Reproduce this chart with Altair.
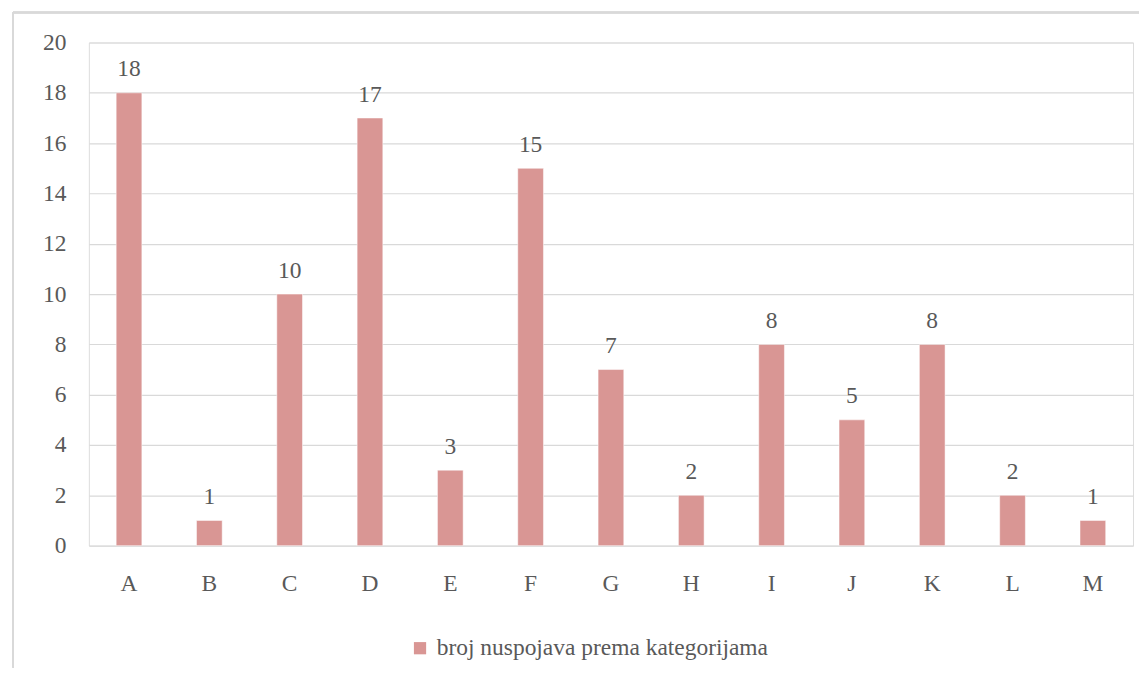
import altair as alt
import pandas as pd

categories = ["A", "B", "C", "D", "E", "F", "G", "H", "I", "J", "K", "L", "M"]
values = [18, 1, 10, 17, 3, 15, 7, 2, 8, 5, 8, 2, 1]
series_name = "broj nuspojava prema kategorijama"

df = pd.DataFrame({"cat": categories, "val": values, "series": [series_name] * len(categories)})

FONT = "Liberation Serif"
FS = 23.5
TXT = "#595959"
GRID = "#d9d9d9"
BAR = "#d99694"

x = alt.X("cat:N", sort=categories, title=None,
          scale=alt.Scale(paddingInner=0.68, paddingOuter=0.34),
          axis=alt.Axis(labelAngle=0, ticks=False, domain=False, labelPadding=26,
                        labelFontSize=FS, labelColor=TXT, labelFont=FONT))
y = alt.Y("val:Q", title=None,
          scale=alt.Scale(domain=[0, 20]),
          axis=alt.Axis(values=list(range(0, 21, 2)), ticks=False, domain=False,
                        labelPadding=23, labelFontSize=FS, labelColor=TXT, labelFont=FONT,
                        gridColor=GRID, gridWidth=1.2))

base = alt.Chart(df)

bars = base.mark_bar(stroke="white", strokeWidth=0.5).encode(
    x=x, y=y,
    color=alt.Color("series:N", scale=alt.Scale(range=[BAR]),
                    legend=alt.Legend(title=None, orient="none", legendX=320, legendY=595,
                                      symbolType="square", symbolSize=150, symbolStrokeWidth=0,
                                      labelFontSize=FS, labelColor=TXT, labelFont=FONT,
                                      labelOffset=5, padding=0, labelLimit=600)),
)

labels = base.mark_text(baseline="alphabetic", dy=-16.5, fontSize=FS, font=FONT, color=TXT).encode(
    x=alt.X("cat:N", sort=categories), y="val:Q", text="val:Q"
)

border_top = alt.Chart(df).mark_rule(color=GRID, strokeWidth=1.5).encode(
    x=alt.value(-76), x2=alt.value(1052), y=alt.value(-30)
)
border_left = alt.Chart(df).mark_rule(color=GRID, strokeWidth=1.5).encode(
    x=alt.value(-76), y=alt.value(-30), y2=alt.value(626)
)

chart = alt.layer(border_top, border_left, bars, labels).properties(
    width=1046, height=504,
    padding={"left": 4, "top": 3, "right": 0, "bottom": 0},
).configure_view(stroke=None).configure(background="white", font=FONT)

chart.save("out.html", embed_options={"renderer": "svg", "actions": False})
